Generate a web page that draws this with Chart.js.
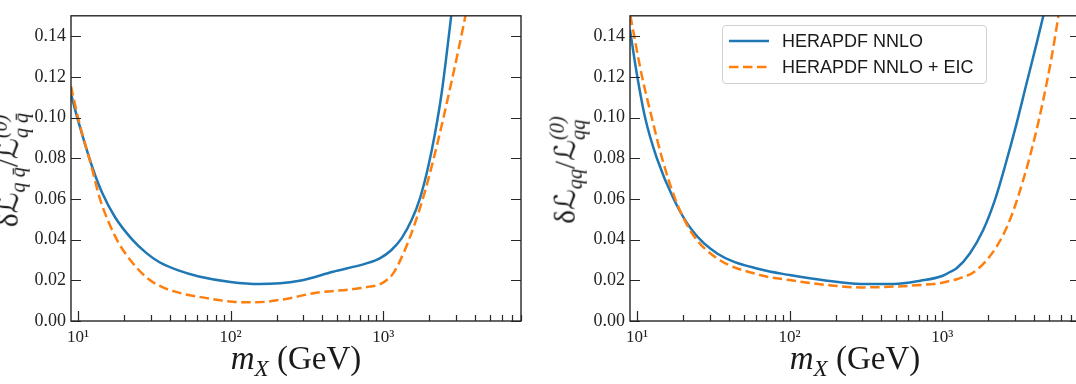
<!DOCTYPE html>
<html><head><meta charset="utf-8">
<title>Luminosity uncertainty: HERAPDF NNLO vs + EIC</title>
<script src="https://cdn.jsdelivr.net/npm/chart.js@4"></script>
<style>
  body {
    margin: 0;
    width: 1076px;
    height: 384px;
    overflow: hidden;
    position: relative;
    background: #fff;
    font-family: 'Liberation Serif', serif;
    color: #1a1a1a;
  }
  canvas { position: absolute; top: 0; }
  .xtitle {
    position: absolute;
    top: 342px;
    width: 450px;
    text-align: center;
    font-size: 33px;
    line-height: 1;
    white-space: nowrap;
  }
  .xtitle sub { font-size: 0.7em; vertical-align: -0.3em; line-height: 0; }
  .ytitle {
    position: absolute;
    top: 170px;
    transform: translate(-50%, -50%) rotate(-90deg);
    white-space: nowrap;
    font-size: 29px;
    line-height: 1;
  }
  .ytitle .L { font-family: 'DejaVu Serif', 'DejaVu Sans', serif; font-style: italic; }
  .ytitle .s { font-size: 0.7em; font-style: italic; vertical-align: -0.35em; }
  .ytitle .ss {
    display: inline-flex;
    flex-direction: column;
    font-size: 0.7em;
    font-style: italic;
    vertical-align: middle;
    line-height: 1.05;
  }
  .legend {
    position: absolute;
    left: 722px;
    top: 25px;
    width: 263px;
    height: 57px;
    border: 1px solid #d0d0d0;
    border-radius: 4px;
    background: rgba(255,255,255,0.8);
    font-family: 'Liberation Sans', sans-serif;
    font-size: 18px;
    color: #1a1a1a;
  }
  .legend .row { position: absolute; left: 0; height: 20px; }
  .legend svg { position: absolute; left: 6px; top: 0; }
  .legend span { position: absolute; left: 59px; top: 0; line-height: 20px; white-space: nowrap; }
</style>
</head>
<body>
  <canvas id="left" width="540" height="384" style="left:0"></canvas>
  <canvas id="right" width="550" height="384" style="left:540px"></canvas>

  <div class="ytitle" style="left:11px">&delta;<span class="L">&#8466;</span><span class="s">q q&#772;</span>/<span class="L">&#8466;</span><span class="ss"><span>(0)</span><span>q q&#772;</span></span></div>
  <div class="ytitle" style="left:568px">&delta;<span class="L">&#8466;</span><span class="s">qq</span>/<span class="L">&#8466;</span><span class="ss"><span>(0)</span><span>qq</span></span></div>

  <div class="xtitle" style="left:71px"><i>m</i><sub><i>X</i></sub> (GeV)</div>
  <div class="xtitle" style="left:630px"><i>m</i><sub><i>X</i></sub> (GeV)</div>

  <div class="legend" id="legend"></div>

<script>
// axis ranges and ticks
const xMin = 9, xMax = 8000;
const yMin = 0, yMax = 0.15;
const yTickValues = [0, 0.02, 0.04, 0.06, 0.08, 0.10, 0.12, 0.14];
const xTickValues = [10, 20, 30, 40, 50, 60, 70, 80, 90,
                     100, 200, 300, 400, 500, 600, 700, 800, 900,
                     1000, 2000, 3000, 4000, 5000, 6000, 7000, 8000];
const xMajor = [10, 100, 1000];
const xMajorLabels = ['10\u00b9', '10\u00b2', '10\u00b3'];

const seriesLabels = ['HERAPDF NNLO', 'HERAPDF NNLO + EIC'];
const seriesColors = ['#1f77b4', '#ff7f0e'];

// left panel: q qbar luminosity (m_X in GeV, relative uncertainty)
const leftNnloM = [9, 10, 12.4, 14.4, 17.5, 22.7, 28, 34, 45, 62, 100, 155, 283, 469, 776, 950,
                   1133, 1319, 1535, 1740, 1971, 2183, 2414, 2604, 2790];
const leftNnloV = [0.1115, 0.0987, 0.0757, 0.063, 0.051, 0.040, 0.0335, 0.029, 0.025, 0.0219,
                   0.0192, 0.0182, 0.0198, 0.0242, 0.0283, 0.0308, 0.0349, 0.0406, 0.0496, 0.0602,
                   0.0757, 0.092, 0.1118, 0.131, 0.150];
const leftEicM = [9, 10, 12.4, 13.8, 16, 18.6, 22, 28, 36, 50, 62, 103, 147, 220, 365, 603, 816,
                  950, 1050, 1163, 1387, 1614, 1876, 2128, 2414, 2811, 3107, 3460];
const leftEicV = [0.1154, 0.100, 0.0745, 0.061, 0.048, 0.038, 0.030, 0.0215, 0.0165, 0.0132, 0.0119,
                  0.0095, 0.0092, 0.0106, 0.0139, 0.0155, 0.0169, 0.018, 0.020, 0.0234, 0.0349, 0.048,
                  0.0635, 0.079, 0.096, 0.118, 0.133, 0.150];

// right panel: q q luminosity
const rightNnloM = [9, 10, 11.3, 13.5, 17.4, 22.9, 33.5, 64, 100, 176, 291, 482, 721, 1000, 1133,
                    1243, 1518, 1857, 2214, 2574, 3071, 3570, 4154, 4600];
const rightNnloV = [0.143, 0.121, 0.100, 0.080, 0.060, 0.0447, 0.0332, 0.0254, 0.0226, 0.0198, 0.0182,
                    0.0182, 0.0198, 0.0221, 0.0242, 0.0259, 0.0332, 0.0447, 0.0594, 0.0758, 0.097,
                    0.1167, 0.1363, 0.150];
const rightEicM = [9.05, 10.8, 12.5, 14.6, 17.8, 23, 33.5, 64, 100, 176, 291, 482, 721, 1000, 1133,
                   1243, 1679, 2270, 2775, 3394, 4050, 4590, 5210, 5780];
const rightEicV = [0.150, 0.120, 0.100, 0.080, 0.060, 0.043, 0.0308, 0.0226, 0.0201, 0.0177, 0.0165,
                   0.0169, 0.0177, 0.0188, 0.0198, 0.0205, 0.025, 0.0365, 0.0496, 0.0692, 0.0905,
                   0.1085, 0.1295, 0.150];

// inward tick marks + box frame, placed with the chart's own scales
const frame = {
  id: 'frame',
  afterDatasetsDraw(chart) {
    const { ctx, chartArea: a, scales: { x, y } } = chart;
    ctx.save();
    ctx.strokeStyle = '#262626';
    ctx.lineWidth = 1.2;
    ctx.beginPath();
    x.ticks.forEach(t => {
      const px = Math.round(x.getPixelForValue(t.value)) + 0.5;
      const len = xMajor.includes(t.value) ? 10 : 6;
      ctx.moveTo(px, a.bottom);
      ctx.lineTo(px, a.bottom - len);
    });
    y.ticks.forEach(t => {
      const py = Math.round(y.getPixelForValue(t.value)) + 0.5;
      ctx.moveTo(a.left, py);
      ctx.lineTo(a.left + 10, py);
      ctx.moveTo(a.right, py);
      ctx.lineTo(a.right - 10, py);
    });
    ctx.stroke();
    ctx.lineWidth = 1.4;
    ctx.strokeRect(a.left, a.top, a.right - a.left, a.bottom - a.top);
    ctx.restore();
  }
};

function toPoints(ms, vs) {
  return ms.map((m, i) => ({ x: m, y: vs[i] }));
}

function makeChart(id, nnloM, nnloV, eicM, eicV, yWidth, padRight) {
  return new Chart(document.getElementById(id), {
    type: 'line',
    data: {
      datasets: [{
        label: seriesLabels[0],
        data: toPoints(nnloM, nnloV),
        borderColor: seriesColors[0],
        borderWidth: 2.5,
        order: 1
      }, {
        label: seriesLabels[1],
        data: toPoints(eicM, eicV),
        borderColor: seriesColors[1],
        borderWidth: 2.5,
        borderDash: [9.5, 4.5],
        order: 0
      }]
    },
    options: {
      responsive: false,
      animation: false,
      clip: 0,
      layout: { padding: { top: 15, right: padRight, left: 0, bottom: 0 } },
      plugins: { legend: { display: false }, tooltip: { enabled: false } },
      elements: {
        point: { radius: 0 },
        line: { cubicInterpolationMode: 'monotone', fill: false }
      },
      scales: {
        x: {
          type: 'logarithmic',
          min: xMin,
          max: xMax,
          afterBuildTicks: s => { s.ticks = xTickValues.map(v => ({ value: v })); },
          afterFit: s => { s.height = 63; },
          grid: { display: false, drawTicks: false },
          border: { display: false },
          ticks: {
            autoSkip: false,
            maxRotation: 0,
            padding: 6,
            color: '#222',
            font: { family: 'Liberation Serif', size: 17 },
            callback: v => {
              const k = xMajor.indexOf(v);
              return k >= 0 ? xMajorLabels[k] : '';
            }
          }
        },
        y: {
          type: 'linear',
          min: yMin,
          max: yMax,
          afterBuildTicks: s => { s.ticks = yTickValues.map(v => ({ value: v })); },
          afterFit: s => { s.width = yWidth; },
          grid: { display: false, drawTicks: false },
          border: { display: false },
          ticks: {
            padding: 5,
            color: '#222',
            font: { family: 'Liberation Serif', size: 18 },
            callback: v => v.toFixed(2)
          }
        }
      }
    },
    plugins: [frame]
  });
}

makeChart('left', leftNnloM, leftNnloV, leftEicM, leftEicV, 71, 19);
const rightChart = makeChart('right', rightNnloM, rightNnloV, rightEicM, rightEicV, 90, 10);

// legend (right panel only), built from the dataset settings
const legend = document.getElementById('legend');
rightChart.data.datasets.forEach((ds, i) => {
  const row = document.createElement('div');
  row.className = 'row';
  row.style.top = (5 + i * 26) + 'px';
  const dash = ds.borderDash ? 'stroke-dasharray="9.5 4.5"' : '';
  row.innerHTML = '<svg width="42" height="20"><line x1="0" y1="10" x2="40" y2="10" stroke="' +
    ds.borderColor + '" stroke-width="2.5" ' + dash + '/></svg><span>' + ds.label + '</span>';
  legend.appendChild(row);
});
</script>
</body></html>
